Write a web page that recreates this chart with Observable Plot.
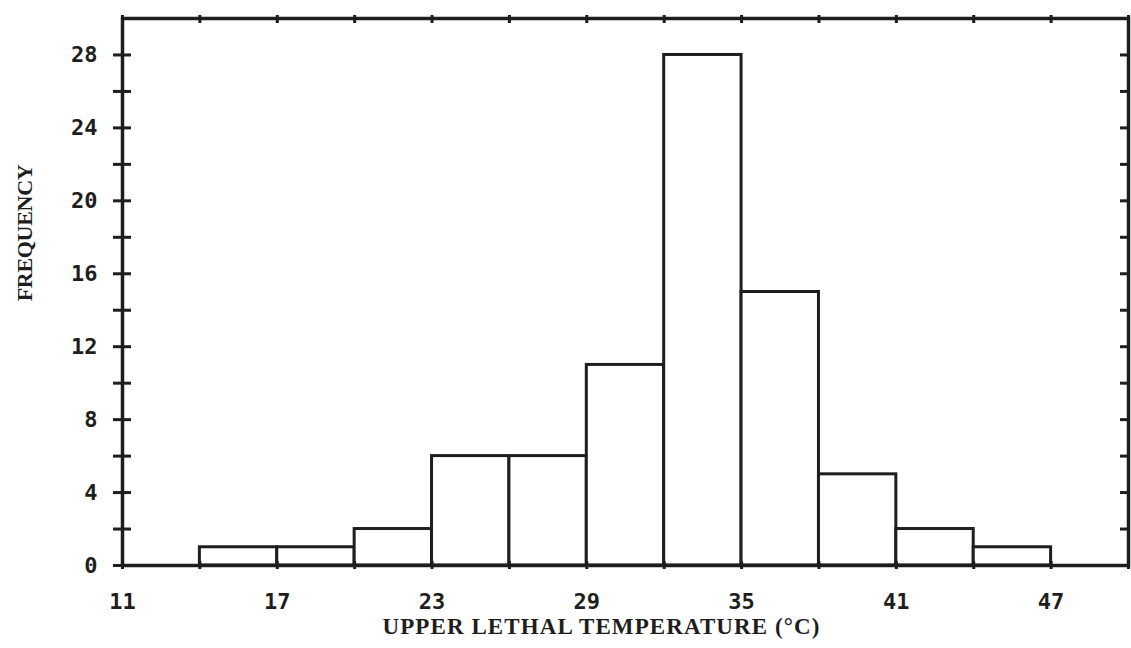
<!DOCTYPE html>
<html>
<head>
<meta charset="utf-8">
<script src="https://cdn.jsdelivr.net/npm/d3@7"></script>
<script src="https://cdn.jsdelivr.net/npm/@observablehq/plot@0.6"></script>
<style>
  html, body { margin: 0; padding: 0; background: #fff; }
</style>
</head>
<body>
<div id="chart"></div>
<script>
// Data: histogram of upper lethal temperature (°C), bins of 3 °C
const binStart = [11, 14, 17, 20, 23, 26, 29, 32, 35, 38, 41, 44, 47];
const binEnd   = [14, 17, 20, 23, 26, 29, 32, 35, 38, 41, 44, 47, 50];
const frequency = [0, 1, 1, 2, 6, 6, 11, 28, 15, 5, 2, 1, 0];

const xTickLabels = [11, 17, 23, 29, 35, 41, 47];
const xMinorTicks = [11, 14, 17, 20, 23, 26, 29, 32, 35, 38, 41, 44, 47, 50];
const yTickLabels = [0, 4, 8, 12, 16, 20, 24, 28];
const yMinorTicks = [0, 2, 4, 6, 8, 10, 12, 14, 16, 18, 20, 22, 24, 26, 28];

const xTitle = "UPPER LETHAL TEMPERATURE (°C)";
const yTitle = "FREQUENCY";

const bins = binStart.map((s, i) => ({x1: s, x2: binEnd[i], y: frequency[i]}));

const ink = "#1e1e1e";
const tickFont = "DejaVu Sans Mono";
const titleFont = "Liberation Serif";

const chart = Plot.plot({
  width: 1131,
  height: 648,
  marginLeft: 122,
  marginRight: 3,
  marginTop: 18,
  marginBottom: 83,
  style: {background: "#fff", color: ink},
  x: {domain: [11, 50]},
  y: {domain: [0, 30]},
  marks: [
    Plot.rectY(bins, {x1: "x1", x2: "x2", y: "y", fill: "#fff", stroke: ink, strokeWidth: 3}),
    Plot.frame({stroke: ink, strokeWidth: 3.5}),
    // left axis: crossing ticks
    Plot.axisY(yMinorTicks, {anchor: "left", tickSize: 9, tickFormat: () => "", label: null, stroke: ink, strokeWidth: 3}),
    Plot.axisY(yMinorTicks, {anchor: "left", tickSize: -9, tickFormat: () => "", label: null, stroke: ink, strokeWidth: 3}),
    Plot.axisY(yTickLabels, {anchor: "left", tickSize: 0, tickPadding: 25, label: null,
      fontSize: 22, fontFamily: tickFont, fontWeight: "bold", fill: ink}),
    // right axis: inward ticks
    Plot.axisY(yMinorTicks, {anchor: "right", tickSize: -9, tickFormat: () => "", label: null, stroke: ink, strokeWidth: 3}),
    // top axis: small pips
    Plot.axisX(xMinorTicks, {anchor: "top", tickSize: 4, tickFormat: () => "", label: null, stroke: ink, strokeWidth: 3}),
    Plot.axisX(xMinorTicks, {anchor: "top", tickSize: -4, tickFormat: () => "", label: null, stroke: ink, strokeWidth: 3}),
    // bottom axis: small pips + labels
    Plot.axisX(xMinorTicks, {anchor: "bottom", tickSize: 4, tickFormat: () => "", label: null, stroke: ink, strokeWidth: 3}),
    Plot.axisX(xMinorTicks, {anchor: "bottom", tickSize: -4, tickFormat: () => "", label: null, stroke: ink, strokeWidth: 3}),
    Plot.axisX(xTickLabels, {anchor: "bottom", tickSize: 0, tickPadding: 28, label: null,
      fontSize: 22, fontFamily: tickFont, fontWeight: "bold", fill: ink}),
    // axis titles
    Plot.text([xTitle], {frameAnchor: "bottom", textAnchor: "middle", dx: -24, dy: 68, fontSize: 23,
      fontFamily: titleFont, fontWeight: "bold", fill: ink}),
    Plot.text([yTitle], {frameAnchor: "left", textAnchor: "middle", rotate: -90, dx: -98, dy: -59, fontSize: 22,
      fontFamily: titleFont, fontWeight: "bold", fill: ink})
  ]
});

document.getElementById("chart").appendChild(chart);

// stretch the typewriter-style titles to the reference's spread
const targets = new Map([[xTitle, 437], [yTitle, 137]]);
d3.select(chart).selectAll("text").each(function () {
  const t = this.textContent;
  if (targets.has(t)) {
    const len = this.getComputedTextLength();
    const ls = (targets.get(t) - len) / (t.length - 1);
    this.setAttribute("letter-spacing", ls.toFixed(2));
  }
});
</script>
</body>
</html>
